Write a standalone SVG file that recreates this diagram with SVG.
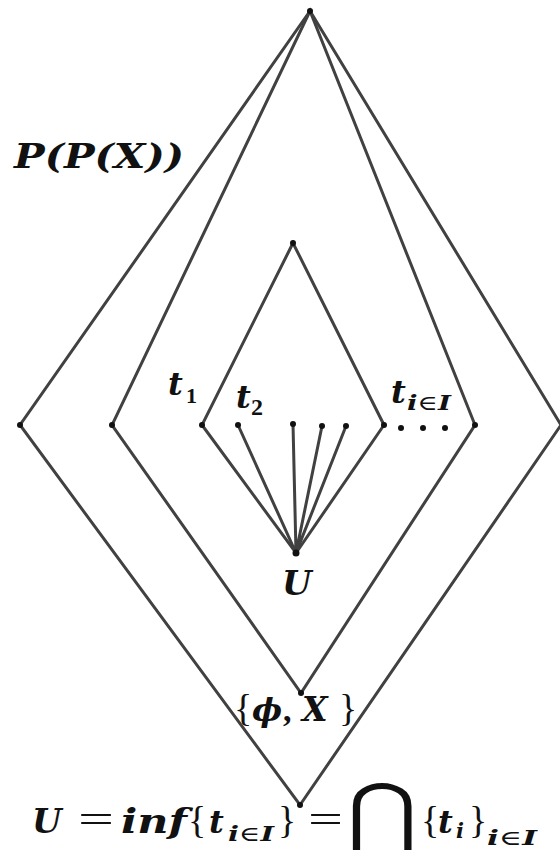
<svg xmlns="http://www.w3.org/2000/svg" width="560" height="850" viewBox="0 0 560 850">
<style>
.e{fill:none;stroke:#414141;stroke-width:3;stroke-linecap:round;stroke-linejoin:miter}
.d{fill:#111}
.m{font-family:"DejaVu Serif","Liberation Serif",serif;font-weight:bold;font-style:italic;fill:#111}
.r{font-family:"Liberation Serif","DejaVu Serif",serif;font-weight:normal;font-style:normal;fill:#111}
.b{font-family:"Liberation Serif","DejaVu Serif",serif;font-weight:bold;font-style:normal;fill:#111}
.s{font-size:21px}
</style>
<rect width="560" height="850" fill="#fff"/>
<g id="connectors">
<path class="e" d="M310,11 L20,425 L300,805 L561,425 Z"/>
<path class="e" d="M310,11 L112,425 L301,693 L475,425 Z"/>
<path class="e" d="M293,243 L202,425 L296,553 L384,425 Z"/>
<path class="e" d="M296,553 L238,425 M296,553 L293,424 M296,553 L322,426 M296,553 L346,426"/>
</g>
<g id="top"><circle class="d" cx="310" cy="11" r="3"/></g>
<g id="outer-left"><circle class="d" cx="20" cy="425" r="3"/></g>
<g id="middle-left"><circle class="d" cx="112" cy="425" r="3"/></g>
<g id="middle-right"><circle class="d" cx="475" cy="425" r="3"/></g>
<g id="inner-top"><circle class="d" cx="293" cy="243" r="3"/></g>
<g id="t1"><circle class="d" cx="202" cy="425" r="3"/>
<text class="m" font-size="32" x="168" y="395">t</text><text class="b" font-size="22" x="186" y="403">1</text></g>
<g id="t2"><circle class="d" cx="238" cy="425" r="3"/>
<text class="m" font-size="32" x="236" y="408">t</text><text class="b" font-size="24" x="251" y="415">2</text></g>
<g id="t3"><circle class="d" cx="293" cy="424" r="3"/></g>
<g id="t4"><circle class="d" cx="322" cy="426" r="3"/></g>
<g id="t5"><circle class="d" cx="346" cy="426" r="3"/></g>
<g id="tI"><circle class="d" cx="384" cy="425" r="3"/>
<text class="m" font-size="32" x="391" y="403">t</text><text class="m s" x="407" y="410" textLength="44" lengthAdjust="spacingAndGlyphs">i<tspan class="r">∈</tspan>I</text>
<circle class="d" cx="401" cy="428" r="3"/><circle class="d" cx="423" cy="428" r="3"/><circle class="d" cx="445" cy="428" r="3"/></g>
<g id="U"><circle class="d" cx="296" cy="553" r="3.5"/>
<text class="m" font-size="34" x="282" y="595">U</text></g>
<g id="phiX"><circle class="d" cx="301" cy="693" r="3"/>
<text y="721"><tspan class="r" font-size="38" x="234">{</tspan><tspan class="m" font-size="32" x="252">ϕ</tspan><tspan class="b" font-size="34" x="283">,</tspan><tspan class="m" font-size="33" x="302">X</tspan><tspan class="r" font-size="38" x="339">}</tspan></text></g>
<g id="bottom"><circle class="d" cx="300" cy="805" r="3"/></g>
<g id="PPX">
<text class="m" font-size="33" x="14" y="168" textLength="170" lengthAdjust="spacingAndGlyphs">P(P(X))</text>
</g>
<g id="formula">
<text y="833"><tspan class="m" font-size="34" x="32">U</tspan><tspan class="r" x="78" font-size="40" textLength="36" lengthAdjust="spacingAndGlyphs">=</tspan><tspan class="m" font-size="33" x="121" textLength="66" lengthAdjust="spacingAndGlyphs">inf</tspan><tspan class="r" font-size="38" x="188">{</tspan><tspan class="m" font-size="32" x="209">t</tspan><tspan class="r" font-size="38" x="278">}</tspan><tspan class="r" x="308" font-size="40" textLength="35" lengthAdjust="spacingAndGlyphs">=</tspan><tspan class="r" font-size="38" x="421">{</tspan><tspan class="m" font-size="32" x="438">t</tspan><tspan class="r" font-size="38" x="469">}</tspan></text>
<text class="m s" y="841" x="228" textLength="46" lengthAdjust="spacingAndGlyphs">i<tspan class="r">∈</tspan>I</text>
<text class="m s" y="838" x="456">i</text>
<text class="m s" y="845" x="487" textLength="50" lengthAdjust="spacingAndGlyphs">i<tspan class="r">∈</tspan>I</text>
<text class="r" font-family="DejaVu Sans" font-size="76" font-weight="bold" x="347" y="838" textLength="70" lengthAdjust="spacingAndGlyphs">⋂</text>
</g>
</svg>
